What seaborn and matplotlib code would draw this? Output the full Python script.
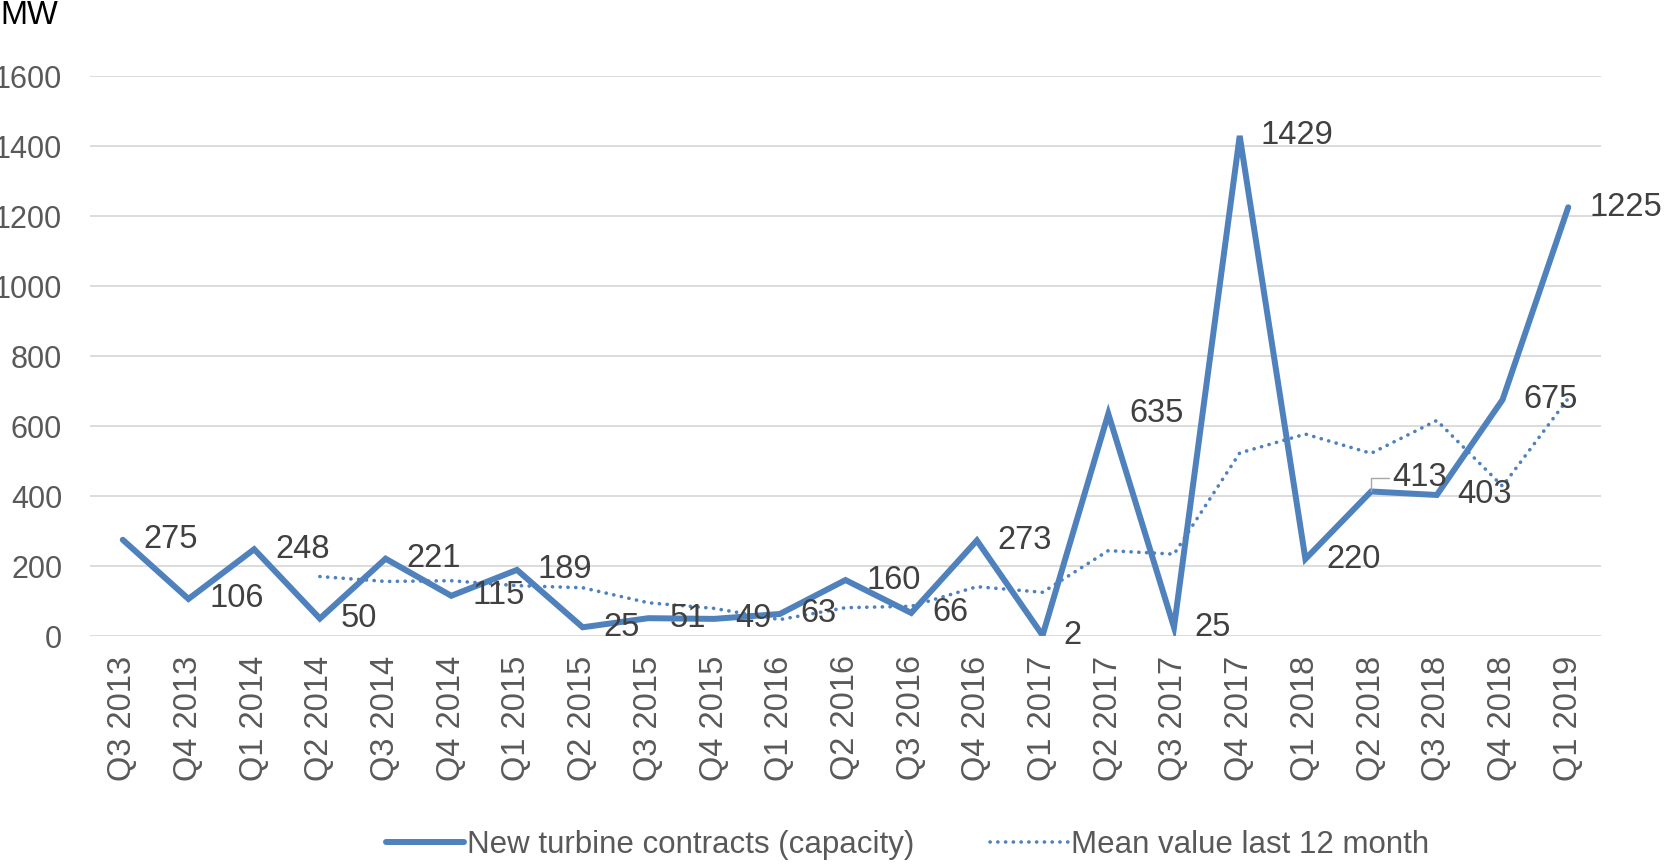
import matplotlib
matplotlib.use("Agg")
import matplotlib.pyplot as plt
import seaborn as sns
import pandas as pd
import numpy as np

quarters = ["Q3 2013", "Q4 2013", "Q1 2014", "Q2 2014", "Q3 2014", "Q4 2014",
            "Q1 2015", "Q2 2015", "Q3 2015", "Q4 2015", "Q1 2016", "Q2 2016",
            "Q3 2016", "Q4 2016", "Q1 2017", "Q2 2017", "Q3 2017", "Q4 2017",
            "Q1 2018", "Q2 2018", "Q3 2018", "Q4 2018", "Q1 2019"]
contracts = [275, 106, 248, 50, 221, 115, 189, 25, 51, 49, 63, 160, 66, 273,
             2, 635, 25, 1429, 220, 413, 403, 675, 1225]
mean_12m = [np.nan, np.nan, np.nan, 170, 156, 158, 144, 138, 95, 79, 47, 81,
            85, 141, 125, 244, 234, 523, 577, 522, 616, 428, 679]
yticks = [0, 200, 400, 600, 800, 1000, 1200, 1400, 1600]

name1 = "New turbine contracts (capacity)"
name2 = "Mean value last 12 month"

df = pd.DataFrame({"x": np.arange(len(quarters)), "quarter": quarters,
                   "contracts": contracts, "mean": mean_12m})

sns.set_theme(style="white")
plt.rcParams["font.family"] = ["Liberation Sans", "DejaVu Sans"]

FS = 23.5
BLUE = "#4F81BD"
fig = plt.figure(figsize=(16.65, 8.65), dpi=100)
ax = fig.add_axes([0.054, 0.2647, 0.9076, 0.6474])

sns.lineplot(data=df, x="x", y="contracts", ax=ax, color=BLUE, lw=4.3,
             label=name1, solid_joinstyle="miter")
sns.lineplot(data=df.dropna(), x="x", y="mean", ax=ax, color=BLUE, lw=2.6,
             linestyle=(0, (0.05, 2.1)), dash_capstyle="round", label=name2)

ax.set_xlim(-0.5, len(quarters) - 0.5)
ax.set_ylim(0, 1600)
ax.set_yticks(yticks)
ax.set_yticklabels([str(v) for v in yticks])
ax.set_xticks(df["x"])
ax.set_xticklabels(quarters, rotation=90)
ax.tick_params(axis="x", labelsize=FS, colors="#595959", length=0, pad=14)
ax.tick_params(axis="y", labelsize=22, colors="#595959", length=0, pad=20)
ax.grid(axis="y", color="#D9D9D9", lw=1.3)
ax.set_axisbelow(True)
for s in ax.spines.values():
    s.set_visible(False)
ax.set_xlabel("")
ax.set_ylabel("")

for i, v in enumerate(contracts):
    if quarters[i] == "Q2 2018":
        ax.annotate(str(v), xy=(i, v), xytext=(15, 10), textcoords="offset points",
                    ha="left", va="center", fontsize=FS, color="#404040",
                    annotation_clip=False,
                    arrowprops=dict(arrowstyle="-", color="#A6A6A6", lw=1,
                                    shrinkA=0, shrinkB=0,
                                    connectionstyle="angle,angleA=0,angleB=90,rad=0"))
    else:
        ax.annotate(str(v), xy=(i, v), xytext=(15, 0), textcoords="offset points",
                    ha="left", va="center", fontsize=FS, color="#404040",
                    annotation_clip=False)

fig.text(0.0, 0.982, "MW", fontsize=FS, color="#000000", ha="left", va="center")

ax.legend_.remove()
h, l = ax.get_legend_handles_labels()
fig.legend(h, l, loc="center", bbox_to_anchor=(0.545, 0.023), ncol=2, frameon=False,
           fontsize=22.5, labelcolor="#595959", handlelength=2.5, handletextpad=0.1,
           columnspacing=2.4)

fig.savefig("out.png", dpi=100)
